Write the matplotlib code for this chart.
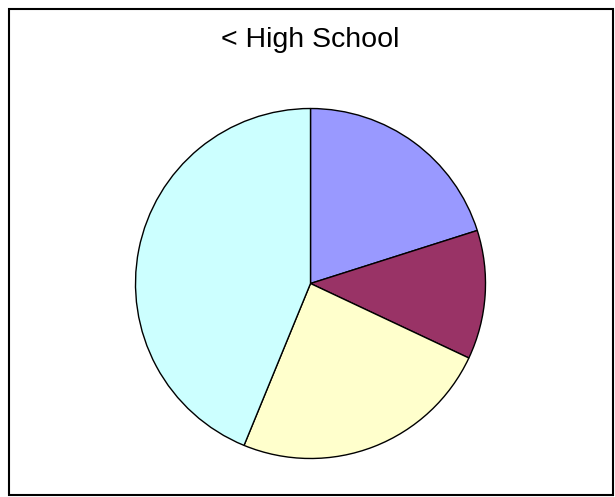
import matplotlib
matplotlib.use("Agg")
import matplotlib.pyplot as plt
from matplotlib.patches import Rectangle

title = "< High School"
labels = ["A", "B", "C", "D"]
values = [20.1, 11.9, 24.2, 43.8]
colors = ["#9999FF", "#993366", "#FFFFCC", "#CCFFFF"]

W, H = 615, 497
fig = plt.figure(figsize=(W / 100, H / 100), dpi=100)
fig.patch.set_facecolor("white")

# outer border
fig.patches.append(Rectangle((8.5 / W, 1 - 494.5 / H), (612.5 - 8.5) / W, (494.5 - 8.5) / H,
                             transform=fig.transFigure, fill=False, edgecolor="black", linewidth=1.5))

cx, cy, r = 310.5, 283.5, 175.0
ax = fig.add_axes([(cx - r) / W, 1 - (cy + r) / H, 2 * r / W, 2 * r / H])
ax.pie(values, colors=colors, startangle=90, counterclock=False,
       wedgeprops=dict(edgecolor="black", linewidth=1.0))
ax.set_xlim(-1, 1)
ax.set_ylim(-1, 1)
ax.set_aspect("equal")
ax.axis("off")

fig.text(cx / W, 1 - 40 / H, title, ha="center", va="center",
         fontsize=20.5, family="Liberation Sans")

fig.savefig("out.png", dpi=100, facecolor="white")
